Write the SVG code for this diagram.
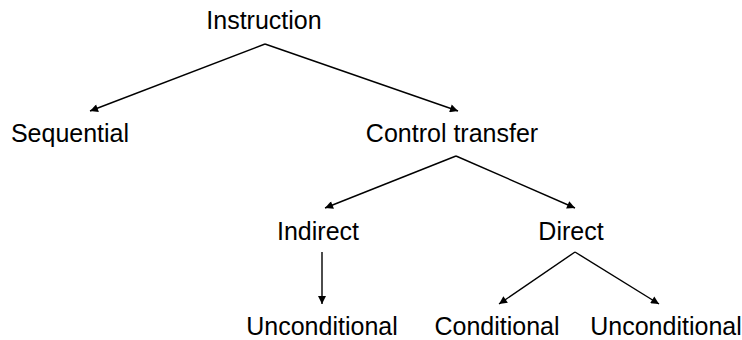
<svg xmlns="http://www.w3.org/2000/svg" width="742" height="340" viewBox="0 0 742 340">
  <style>
    .lbl { font-family: "Liberation Sans", Arial, sans-serif; font-size: 25px; fill: #000; text-anchor: middle; }
    .edge { stroke: #000; stroke-width: 1.4; fill: none; marker-end: url(#arrow); }
  </style>
  <defs>
    <marker id="arrow" viewBox="0 0 10 10" refX="10" refY="5" markerWidth="9" markerHeight="8" markerUnits="userSpaceOnUse" orient="auto">
      <path d="M0,0 L10,5 L0,10 z" fill="#000"/>
    </marker>
  </defs>
  <rect width="742" height="340" fill="#fff"/>
  <g id="connectors">
    <line class="edge" x1="265" y1="44" x2="90" y2="111"/>
    <line class="edge" x1="265" y1="44" x2="458" y2="111"/>
    <line class="edge" x1="456" y1="156" x2="325" y2="208"/>
    <line class="edge" x1="456" y1="156" x2="575" y2="208"/>
    <line class="edge" x1="322" y1="252" x2="322" y2="304"/>
    <line class="edge" x1="575" y1="252" x2="499" y2="304"/>
    <line class="edge" x1="575" y1="252" x2="659" y2="304"/>
  </g>
  <g id="instruction"><text class="lbl" x="264" y="29">Instruction</text></g>
  <g id="sequential"><text class="lbl" x="70" y="142">Sequential</text></g>
  <g id="control-transfer"><text class="lbl" x="452" y="142">Control transfer</text></g>
  <g id="indirect"><text class="lbl" x="318" y="240">Indirect</text></g>
  <g id="direct"><text class="lbl" x="571" y="240">Direct</text></g>
  <g id="indirect-unconditional"><text class="lbl" x="322" y="335">Unconditional</text></g>
  <g id="conditional"><text class="lbl" x="497" y="335">Conditional</text></g>
  <g id="direct-unconditional"><text class="lbl" x="666" y="335">Unconditional</text></g>
</svg>
